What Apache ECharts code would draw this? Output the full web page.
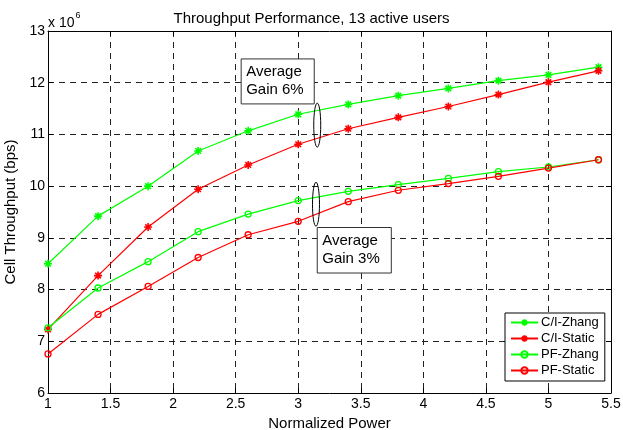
<!DOCTYPE html>
<html><head><meta charset="utf-8">
<script src="https://cdn.jsdelivr.net/npm/echarts@6/dist/echarts.min.js"></script>
<style>html,body{margin:0;padding:0;background:#fff}#c{width:623px;height:430px}</style>
</head><body><div id="c"></div>
<script>
var xValues = [1, 1.4, 1.8, 2.2, 2.6, 3, 3.4, 3.8, 4.2, 4.6, 5, 5.4];
var ciZhang  = [8.50, 9.42, 10.00, 10.68, 11.07, 11.39, 11.58, 11.75, 11.89, 12.04, 12.15, 12.30];
var ciStatic = [7.23, 8.27, 9.21, 9.94, 10.41, 10.81, 11.11, 11.33, 11.54, 11.77, 12.01, 12.23];
var pfZhang  = [7.26, 8.03, 8.54, 9.12, 9.46, 9.72, 9.90, 10.03, 10.15, 10.28, 10.37, 10.51];
var pfStatic = [6.755, 7.52, 8.06, 8.62, 9.06, 9.32, 9.70, 9.92, 10.05, 10.19, 10.35, 10.51];
var seriesNames = ['C/I-Zhang', 'C/I-Static', 'PF-Zhang', 'PF-Static'];

var FONT = 'Liberation Sans, Arial, sans-serif';
var star = 'path://M0,-5L0,5M-5,0L5,0M-3.5,-3.5L3.5,3.5M-3.5,3.5L3.5,-3.5';
function pairs(ys){ return xValues.map(function(x,i){ return [x, ys[i]]; }); }
function mk(name, ys, color, sym){
  var circ = sym === 'circle';
  return {
    name: name, type: 'line', data: pairs(ys), xAxisIndex: 0, yAxisIndex: 0,
    symbol: sym, symbolSize: circ ? 6 : 8, showAllSymbol: true,
    lineStyle: {color: color, width: 1.2, type: 'solid'},
    itemStyle: {color: circ ? 'rgba(255,255,255,0)' : color, borderColor: color, borderWidth: circ ? 1.3 : 1.6},
    emphasis: {disabled: true}, animation: false, z: 5
  };
}
var chart = echarts.init(document.getElementById('c'), null, {renderer: 'canvas'});
function split(){ return {show: true, lineStyle: {color: '#222', type: [6, 5], width: 1}}; }
function frame(){ return {show: true, onZero: false, lineStyle: {color: '#000', width: 1}}; }
function tick(){ return {show: true, inside: true, length: 5, lineStyle: {color: '#000'}}; }
var option = {
  animation: false,
  backgroundColor: '#fff',
  title: {text: 'Throughput Performance, 13 active users', left: 'center', top: 6,
    textStyle: {fontFamily: FONT, fontSize: 15, fontWeight: 'normal', color: '#000'}},
  grid: {left: 48, right: 12, top: 31, bottom: 37, containLabel: false, outerBoundsMode: 'none'},
  legend: {
    data: seriesNames, orient: 'vertical', left: 505, top: 313,
    width: 100, padding: [3, 6, 4, 5], itemGap: 3, itemWidth: 27, itemHeight: 8,
    borderColor: '#000', borderWidth: 1, backgroundColor: '#fff', borderRadius: 0,
    textStyle: {fontFamily: FONT, fontSize: 13, color: '#000', padding: [0, 0, 0, -2]}
  },
  xAxis: [{
    type: 'value', min: 1, max: 5.5, interval: 0.5,
    name: 'Normalized Power', nameLocation: 'middle', nameGap: 20,
    nameTextStyle: {fontFamily: FONT, fontSize: 15, color: '#000'},
    axisLine: frame(), axisTick: tick(),
    axisLabel: {fontFamily: FONT, fontSize: 14, color: '#000', margin: 4},
    splitLine: split()
  }, {
    type: 'value', min: 1, max: 5.5, interval: 0.5, position: 'top',
    axisLine: frame(), axisTick: tick(),
    axisLabel: {show: false}, splitLine: {show: false}
  }],
  yAxis: [{
    type: 'value', min: 6, max: 13, interval: 1,
    name: 'Cell Throughput (bps)', nameLocation: 'middle', nameGap: 27,
    nameTextStyle: {fontFamily: FONT, fontSize: 15, color: '#000'},
    axisLine: frame(), axisTick: tick(),
    axisLabel: {fontFamily: FONT, fontSize: 14, color: '#000', margin: 3},
    splitLine: split()
  }, {
    type: 'value', min: 6, max: 13, interval: 1, position: 'right',
    axisLine: frame(), axisTick: tick(),
    axisLabel: {show: false}, splitLine: {show: false}
  }],
  series: [
    mk(seriesNames[0], ciZhang, '#00ff00', star),
    mk(seriesNames[1], ciStatic, '#ff0000', star),
    mk(seriesNames[2], pfZhang, '#00ff00', 'circle'),
    mk(seriesNames[3], pfStatic, '#ff0000', 'circle')
  ]
};
chart.setOption(option);

function px(x, y){ return chart.convertToPixel({xAxisIndex: 0, yAxisIndex: 0}, [x, y]); }
var e1 = px(3.152, 11.18), e2 = px(3.142, 9.65);
var b1a = px(2.544, 12.46), b1b = px(3.128, 11.59);
var b2a = px(3.152, 9.2), b2b = px(3.744, 8.32);
var tl = px(1, 13);
function box(a, b, txt){
  return [{type: 'rect', shape: {x: a[0], y: a[1], width: b[0]-a[0], height: b[1]-a[1]},
    style: {fill: '#fff', stroke: '#333', lineWidth: 1}, z: 10},
   {type: 'text', x: a[0]+5, y: a[1]+4, style: {text: txt, font: '15px ' + FONT, fill: '#000', lineHeight: 18}, z: 11}];
}
var g = [
  {type: 'ellipse', shape: {cx: e1[0], cy: e1[1], rx: 3.5, ry: 22}, style: {fill: 'none', stroke: '#000', lineWidth: 1}, z: 10},
  {type: 'ellipse', shape: {cx: e2[0], cy: e2[1], rx: 3.5, ry: 22}, style: {fill: 'none', stroke: '#000', lineWidth: 1}, z: 10},
  {type: 'text', x: tl[0], y: tl[1]-22, style: {text: '{a|x 10}{b|6}', rich: {
    a: {fontFamily: FONT, fontSize: 14, fill: '#000', color: '#000', padding: [7, 0, 0, 0]},
    b: {fontFamily: FONT, fontSize: 9, fill: '#000', color: '#000', padding: [0, 0, 7, 1]}}}, z: 11}
].concat(box(b1a, b1b, 'Average\nGain 6%')).concat(box(b2a, b2b, 'Average\nGain 3%'));
chart.setOption({graphic: g});
</script></body></html>
